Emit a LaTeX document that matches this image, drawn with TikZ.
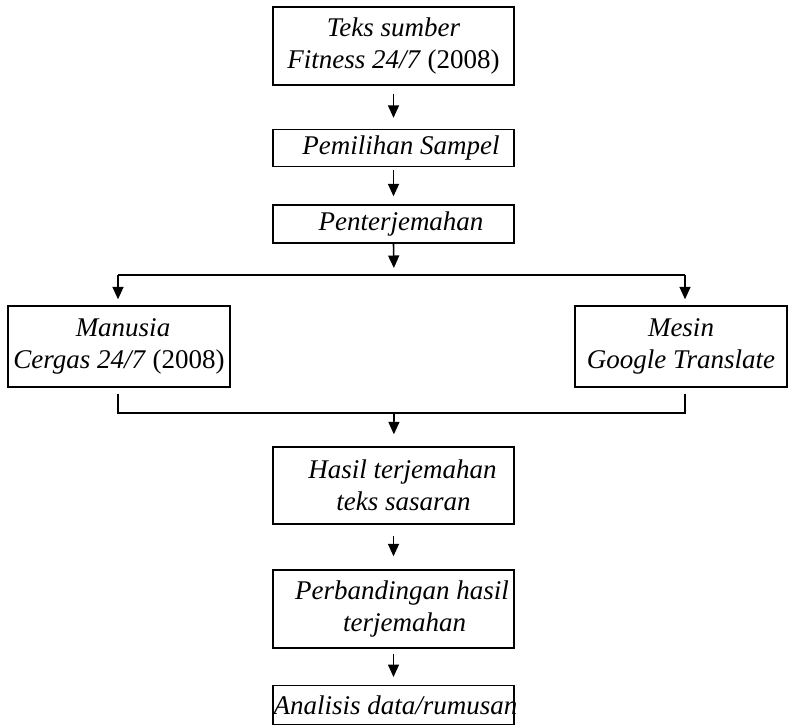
\documentclass[tikz,border=0pt]{standalone}
\usepackage{fontspec}
\setmainfont{Liberation Serif}
\usetikzlibrary{arrows.meta}
\begin{document}
\begin{tikzpicture}[x=1pt,y=-1pt,
  box/.style={draw, line width=1.4pt, inner sep=0pt, align=center,
    font=\fontsize{27}{32}\selectfont\itshape},
  arr/.style={line width=1.6pt, -{Triangle[length=12.5pt,width=11pt]}},
  ln/.style={line width=1.4pt}]
\useasboundingbox (0,0) rectangle (789,724);
\clip (0,0) rectangle (789,724);
% boxes
\node[box, minimum width=241pt, minimum height=78pt] (b1) at (393.5,46)
  {Teks sumber\\Fitness 24/7 \textup{(2008)}};
\node[box, minimum width=241pt, minimum height=37pt] (b2) at (393.5,148)
  {\hspace*{15pt}Pemilihan Sampel};
\node[box, minimum width=241pt, minimum height=38pt] (b3) at (393.5,224)
  {\hspace*{15pt}Penterjemahan};
\node[box, minimum width=222pt, minimum height=81pt] (b4) at (119,346.5)
  {\hspace*{8pt}Manusia\\Cergas 24/7 \textup{(2008)}};
\node[box, minimum width=212pt, minimum height=81pt] (b5) at (681,346.5)
  {Mesin\\Google Translate};
\node[box, minimum width=241pt, minimum height=77pt] (b6) at (393.5,485.5)
  {\hspace*{18pt}Hasil terjemahan\\\hspace*{20pt}teks sasaran};
\node[box, minimum width=241pt, minimum height=78pt] (b7) at (393.5,609)
  {\hspace*{17pt}Perbandingan hasil\\\hspace*{22pt}terjemahan};
\node[box, minimum width=241pt, inner ysep=10pt, anchor=north] (b8) at (393.5,685)
  {\makebox[230pt]{\hspace*{4pt}Analisis data/rumusan}};
% junction points
\coordinate (tm) at (394,275);
\coordinate (tl) at (118,275);
\coordinate (tr) at (685,275);
\coordinate (bm) at (394,413);
\coordinate (bl) at (118,413);
\coordinate (br) at (685,413);
% connectors
\draw[arr, shorten <=8pt, shorten >=11pt] (b1) -- (b2);
\draw[arr, shorten <=3pt, shorten >=8pt] (b2) -- (b3);
\draw[arr, shorten >=7pt] (b3.south) -- (tm);
\draw[ln] (tl) -- (tr);
\draw[arr, shorten >=6pt] (tl) -- (tl |- b4.north);
\draw[arr, shorten >=6pt] (tr) -- (tr |- b5.north);
\draw[ln, shorten <=6pt, shorten >=6pt] (b4.south -| bl) -- (bl) -- (br) -- (b5.south -| br);
\draw[arr, shorten >=12pt] (bm) -- (b6);
\draw[arr, shorten <=11pt, shorten >=13pt] (b6) -- (b7);
\draw[arr, shorten <=5pt, shorten >=8pt] (b7) -- (b8);
\end{tikzpicture}
\end{document}
